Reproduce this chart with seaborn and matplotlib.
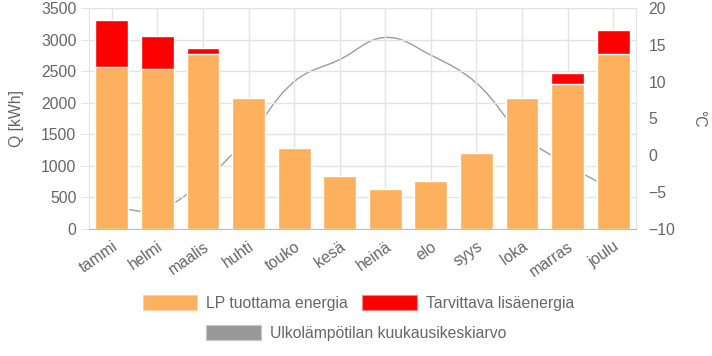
import numpy as np
import pandas as pd
import matplotlib
matplotlib.use("Agg")
import matplotlib.pyplot as plt
from matplotlib.path import Path
from matplotlib.patches import PathPatch, Patch
import seaborn as sns

# data
months = ["tammi", "helmi", "maalis", "huhti", "touko", "kesä",
          "heinä", "elo", "syys", "loka", "marras", "joulu"]
lp_energy = [2565, 2530, 2765, 2075, 1275, 845, 630, 765, 1210, 2080, 2290, 2765]
extra_energy = [740, 520, 105, 0, 0, 0, 0, 0, 0, 0, 175, 390]
temps = [-7.0, -7.4, -3.5, 2.5, 10.0, 13.0, 16.0, 13.6, 9.8, 2.8, -1.3, -4.7]

ORANGE = "#fdb15e"
RED = "#ff0000"
GREY_LINE = "#9c9c9c"
TXT = "#666666"
GRID = "#e4e4e4"
FS = 11.3

sns.set_style("white")
plt.rcParams["font.family"] = ["Liberation Sans", "DejaVu Sans"]
plt.rcParams["font.size"] = FS

df = pd.DataFrame({"kk": months, "lp": lp_energy,
                   "total": np.array(lp_energy) + np.array(extra_energy)})

fig, ax = plt.subplots(figsize=(7.12, 3.56), dpi=100)
fig.subplots_adjust(left=89 / 712, right=636 / 712, top=1 - 8 / 356, bottom=1 - 229 / 356)
ax2 = ax.twinx()

# stacked bars: total in red, LP share in orange on top of it
sns.barplot(data=df, x="kk", y="total", color=RED, saturation=1, width=0.72, ax=ax)
sns.barplot(data=df, x="kk", y="lp", color=ORANGE, saturation=1, width=0.72, ax=ax)
ax.set_ylim(0, 3500)
ax.set_yticks(range(0, 3501, 500))
ax.set_xlim(-0.5, 11.5)

ax2.set_ylim(-10, 20)
ax2.set_yticks(range(-10, 21, 5))

# smooth temperature line (chart.js style bezier, tension 0.4), drawn behind bars
xs = np.arange(len(months))
pts = ax2.transData.transform(np.column_stack([xs, temps]))
n = len(pts)
cp_prev = np.zeros_like(pts)
cp_next = np.zeros_like(pts)
for i in range(n):
    p0 = pts[max(i - 1, 0)]
    p1 = pts[i]
    p2 = pts[min(i + 1, n - 1)]
    d01 = np.hypot(*(p1 - p0))
    d12 = np.hypot(*(p2 - p1))
    s = d01 + d12
    s01 = d01 / s if s else 0
    s12 = d12 / s if s else 0
    cp_prev[i] = p1 - 0.4 * s01 * (p2 - p0)
    cp_next[i] = p1 + 0.4 * s12 * (p2 - p0)
verts = [pts[0]]
codes = [Path.MOVETO]
for i in range(n - 1):
    verts += [cp_next[i], cp_prev[i + 1], pts[i + 1]]
    codes += [Path.CURVE4] * 3
inv = ax2.transData.inverted()
path = Path(inv.transform(np.array(verts)), codes)
ax2.add_patch(PathPatch(path, fill=False, edgecolor=GREY_LINE, lw=1.0))

ax.set_zorder(ax2.get_zorder() + 1)
ax.patch.set_visible(False)

# axes styling
ax.grid(True, color=GRID, lw=1)
ax.set_axisbelow(True)
for sp in ["top", "right"]:
    ax.spines[sp].set_visible(False)
ax.spines["left"].set_color(GRID)
ax.spines["bottom"].set_color("#bdbdbd")
for sp in ["top", "left", "bottom"]:
    ax2.spines[sp].set_visible(False)
ax2.spines["right"].set_color(GRID)

ax.tick_params(axis="y", colors=TXT, length=6, color=GRID, pad=3, labelsize=FS)
ax.tick_params(axis="x", colors=TXT, length=6, color=GRID, pad=1, labelsize=FS)
ax2.tick_params(axis="y", colors=TXT, length=0, pad=9, labelsize=FS)
plt.setp(ax.get_xticklabels(), rotation=35, ha="right", va="top", rotation_mode="anchor")

ax.set_xlabel("")
ax.set_ylabel("Q [kWh]", color=TXT, fontsize=FS, labelpad=12)
ax2.set_ylabel("°C", color=TXT, fontsize=FS, rotation=270, labelpad=22)

# legend in two centred rows
h1 = [Patch(facecolor=ORANGE, edgecolor="#fdd2a5", lw=0.8),
      Patch(facecolor=RED, edgecolor="#ff8080", lw=0.8)]
fig.legend(h1, ["LP tuottama energia", "Tarvittava lisäenergia"],
           loc="center", bbox_to_anchor=(0.503, 0.149), ncol=2, frameon=False,
           handlelength=3.5, handleheight=1.05, handletextpad=0.55,
           columnspacing=0.9, labelcolor=TXT, fontsize=FS)
h2 = [Patch(facecolor="#999999", edgecolor="#c8c8c8", lw=0.8)]
fig.legend(h2, ["Ulkolämpötilan kuukausikeskiarvo"],
           loc="center", bbox_to_anchor=(0.5, 0.065), frameon=False,
           handlelength=3.5, handleheight=1.05, handletextpad=0.55,
           labelcolor=TXT, fontsize=FS)

fig.savefig("out.png", dpi=100)
